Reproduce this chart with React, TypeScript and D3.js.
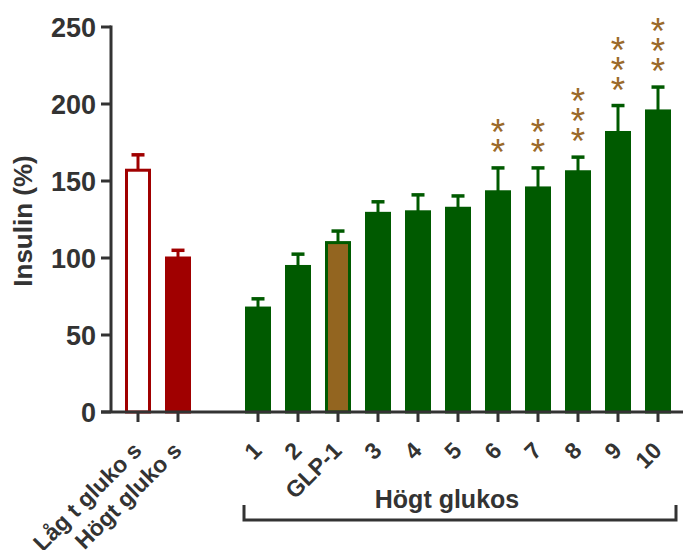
import React from 'react';
import * as d3 from 'd3';

const width = 684;
const height = 550;

// data
const categories = ['Låg t gluko s', 'Högt gluko s', '', '1', '2', 'GLP-1', '3', '4', '5', '6', '7', '8', '9', '10'];
const means = [157, 100, 0, 67.5, 94.5, 110, 129, 130, 132.3, 143, 145.5, 156, 181.5, 195.5];
const errors = [10, 5, 0, 6, 8, 7.5, 7.5, 11, 8, 15.5, 13, 9.5, 17.5, 15.5];
const stars = [0, 0, 0, 0, 0, 0, 0, 0, 0, 2, 2, 3, 3, 3];
const yTicks = [0, 50, 100, 150, 200, 250];
const groupLabel = 'Högt glukos';

const red = '#a00000';
const green = '#005a00';
const brown = '#936520';
const starColor = '#9b6a2a';
const axisColor = '#333333';
const font = '"Liberation Sans", Arial, sans-serif';

const slots = categories.map((_, i) => String(i));

export default function App() {
  const xScale = d3.scaleBand<string>()
    .domain(slots)
    .range([118, 678])
    .paddingInner(0.35)
    .paddingOuter(0.175);

  const yScale = d3.scaleLinear()
    .domain([0, 250])
    .range([412, 27]);

  const bw = xScale.bandwidth();
  const axisX = 111;
  const axisY = yScale(0);

  const fillFor = (i: number) => {
    if (i === 0) return '#ffffff';
    if (i === 1) return red;
    if (categories[i] === 'GLP-1') return brown;
    return green;
  };
  const strokeFor = (i: number) => (i < 2 ? red : green);

  // bracket under the group of treated bars
  const gStart = (xScale('3') as number) - 1;
  const gEnd = (xScale('13') as number) + bw + 5;

  return (
    <svg width={width} height={height} style={{ position: 'absolute', left: 0, top: 0 }}
      fontFamily={font}>
      <rect width={width} height={height} fill="#fff" />

      {/* bars */}
      {categories.map((c, i) => {
        if (c === '') return null;
        const x = xScale(slots[i]) as number;
        const cx = x + bw / 2;
        const top = yScale(means[i]);
        const errTop = yScale(means[i] + errors[i]);
        const col = strokeFor(i);
        return (
          <g key={i}>
            <line x1={cx} x2={cx} y1={top} y2={errTop} stroke={col} strokeWidth={3} />
            <line x1={cx - 6.5} x2={cx + 6.5} y1={errTop} y2={errTop} stroke={col} strokeWidth={3.5} />
            <rect x={x + 1.5} y={top} width={bw - 3} height={axisY - top}
              fill={fillFor(i)} stroke={col} strokeWidth={3} />
            {d3.range(stars[i]).map(k => (
              <text key={k} x={cx} y={errTop - 24 - k * 20 + 21} textAnchor="middle"
                fontSize={37} fill={starColor}>*</text>
            ))}
          </g>
        );
      })}

      {/* y axis */}
      <line x1={axisX} x2={axisX} y1={yScale(250) - 1.5} y2={axisY} stroke={axisColor} strokeWidth={3} />
      {yTicks.map(t => (
        <g key={t}>
          <line x1={axisX - 10} x2={axisX} y1={yScale(t)} y2={yScale(t)} stroke={axisColor} strokeWidth={3} />
          <text x={96} y={yScale(t)} dy="0.36em" textAnchor="end" fontSize={27} fontWeight="bold"
            fill={axisColor}>{t}</text>
        </g>
      ))}
      <text transform={`translate(32, 221) rotate(-90)`} textAnchor="middle" fontSize={26}
        fontWeight="bold" fill={axisColor}>Insulin (%)</text>

      {/* x axis */}
      <line x1={axisX - 10} x2={683} y1={axisY} y2={axisY} stroke={axisColor} strokeWidth={3} />
      {categories.map((c, i) => {
        if (c === '') return null;
        const cx = (xScale(slots[i]) as number) + bw / 2;
        return (
          <g key={'t' + i}>
            <line x1={cx} x2={cx} y1={axisY} y2={axisY + 10} stroke={axisColor} strokeWidth={3} />
            <text transform={`translate(${cx + 5}, ${axisY + 40}) rotate(-45)`} textAnchor="end"
              fontSize={23} fontWeight="bold" fill={axisColor}>{c}</text>
          </g>
        );
      })}

      {/* group bracket */}
      <text x={(gStart + gEnd) / 2 - 13} y={508} textAnchor="middle" fontSize={25} fontWeight="bold"
        fill={axisColor}>{groupLabel}</text>
      <path d={`M${gStart},505 V520 H${gEnd} V505`} fill="none" stroke={axisColor} strokeWidth={3} />
    </svg>
  );
}
